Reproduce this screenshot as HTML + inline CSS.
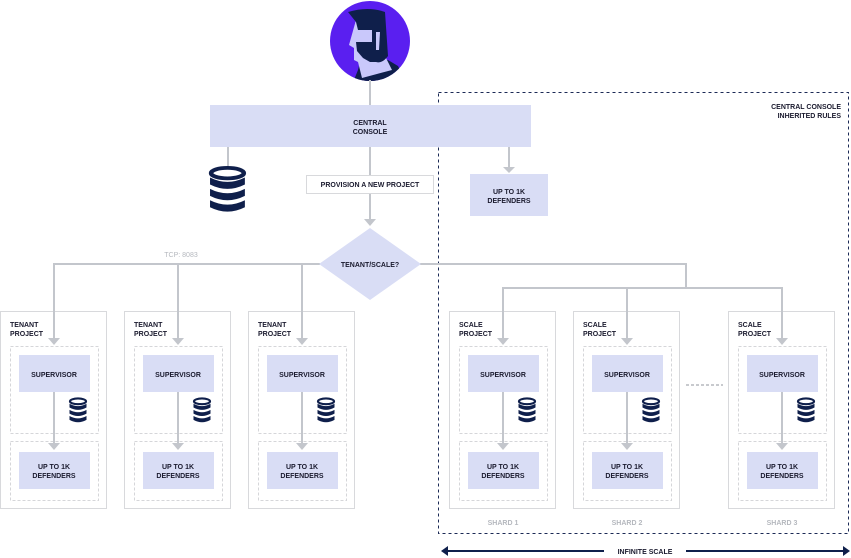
<!DOCTYPE html>
<html><head><meta charset="utf-8"><style>
html,body{margin:0;padding:0;background:#fff}
svg{display:block}
text{font-family:"Liberation Sans",sans-serif;font-weight:bold;font-size:7px;fill:#1a1a2e}
.g{fill:#b5b8be}
</style></head><body>
<svg width="851" height="558" viewBox="0 0 851 558" xmlns="http://www.w3.org/2000/svg">
<defs>
<g id="db">
<ellipse cx="9" cy="3.5" rx="8" ry="3" fill="none" stroke="#0f1f4b" stroke-width="2.2"/>
<path d="M0.5,6 Q9,11 17.5,6 L17.5,10 Q9,15 0.5,10Z M0.5,12.5 Q9,17.5 17.5,12.5 L17.5,16.5 Q9,21.5 0.5,16.5Z M0.5,19 Q9,24 17.5,19 L17.5,23 Q9,28 0.5,23Z" fill="#0f1f4b"/>
</g>
<g id="proj">
<rect x="0.5" y="311.5" width="106" height="197" fill="#fff" stroke="#d8d9dc"/>
<rect x="10.5" y="346.5" width="88" height="87" fill="none" stroke="#d5d6d9" stroke-dasharray="3,2"/>
<rect x="10.5" y="441.5" width="88" height="59" fill="none" stroke="#d5d6d9" stroke-dasharray="3,2"/>
<rect x="19" y="355" width="71" height="37" fill="#d9ddf5"/>
<rect x="19" y="452" width="71" height="37" fill="#d9ddf5"/>
<line x1="54" y1="392" x2="54" y2="446" stroke="#c3c6cc" stroke-width="2"/>
<path d="M48,443 L60,443 L54,450Z" fill="#c3c6cc"/>
<line x1="54" y1="311" x2="54" y2="340" stroke="#c3c6cc" stroke-width="2"/>
<path d="M48,338 L60,338 L54,345Z" fill="#c3c6cc"/>
<text x="54" y="377" text-anchor="middle">SUPERVISOR</text>
<text x="54" y="469" text-anchor="middle">UP TO 1K</text>
<text x="54" y="478" text-anchor="middle">DEFENDERS</text>
<use href="#db" transform="translate(69,398) scale(1,0.95)"/>
</g>
</defs>

<rect x="438.5" y="92.5" width="410" height="441" fill="none" stroke="#1b2a55" stroke-dasharray="3,3"/>
<text x="841" y="109" text-anchor="end">CENTRAL CONSOLE</text>
<text x="841" y="118" text-anchor="end">INHERITED RULES</text>

<!-- avatar -->
<circle cx="370" cy="41" r="40" fill="#5a1ff0"/>
<clipPath id="cc"><circle cx="370" cy="41" r="40"/></clipPath>
<g clip-path="url(#cc)">
<path d="M358,70 L360,62 L388,60 L398,66 L410,90 L350,90Z" fill="#0f1f4b"/>
<path d="M356,20 L382,18 L384,54 L392,70 L362,78 L358,62 L354,60 L354,48 L349,45 Z" fill="#c9c8fb"/>
<path d="M348,12 Q368,6 385,12 L388,56 Q382,64 376,62 L370,62 L363,58 L357,51 L356,42 L372,42 L372,30 L358,30 L356,22 Z" fill="#0f1f4b"/>
<path d="M376,32 L380,32 L379,50 L376,50Z" fill="#c9c8fb"/>
</g>

<line x1="370" y1="80" x2="370" y2="105" stroke="#c3c6cc" stroke-width="2"/>
<rect x="210" y="105" width="321" height="42" fill="#d9ddf5"/>
<text x="370" y="125" text-anchor="middle">CENTRAL</text>
<text x="370" y="134" text-anchor="middle">CONSOLE</text>

<line x1="228" y1="147" x2="228" y2="167" stroke="#c3c6cc" stroke-width="2"/>
<g transform="translate(209,167) scale(2.05,1.75)"><use href="#db"/></g>

<line x1="370" y1="147" x2="370" y2="220" stroke="#c3c6cc" stroke-width="2"/>
<path d="M364,219 L376,219 L370,226Z" fill="#c3c6cc"/>
<rect x="306.5" y="175.5" width="127" height="18" fill="#fff" stroke="#d8d9dc"/>
<text x="370" y="187" text-anchor="middle">PROVISION A NEW PROJECT</text>

<line x1="509" y1="147" x2="509" y2="168" stroke="#c3c6cc" stroke-width="2"/>
<path d="M503,167 L515,167 L509,173Z" fill="#c3c6cc"/>
<rect x="470" y="174" width="78" height="42" fill="#d9ddf5"/>
<text x="509" y="194" text-anchor="middle">UP TO 1K</text>
<text x="509" y="203" text-anchor="middle">DEFENDERS</text>

<polyline points="54,311 54,264 320,264" fill="none" stroke="#c3c6cc" stroke-width="2"/>
<line x1="178" y1="264" x2="178" y2="311" stroke="#c3c6cc" stroke-width="2"/>
<line x1="302" y1="264" x2="302" y2="311" stroke="#c3c6cc" stroke-width="2"/>
<text x="181" y="257" text-anchor="middle" class="g" style="font-weight:normal">TCP: 8083</text>
<polyline points="420,264 686,264 686,288" fill="none" stroke="#c3c6cc" stroke-width="2"/>
<polyline points="503,311 503,288 782,288 782,311" fill="none" stroke="#c3c6cc" stroke-width="2"/>
<line x1="627" y1="288" x2="627" y2="311" stroke="#c3c6cc" stroke-width="2"/>

<path d="M370,228 L421,264 L370,300 L319,264Z" fill="#d9ddf5"/>
<text x="370" y="267" text-anchor="middle">TENANT/SCALE?</text>

<use href="#proj"/>
<use href="#proj" transform="translate(124,0)"/>
<use href="#proj" transform="translate(248,0)"/>
<use href="#proj" transform="translate(449,0)"/>
<use href="#proj" transform="translate(573,0)"/>
<use href="#proj" transform="translate(728,0)"/>

<text x="10" y="327">TENANT</text><text x="10" y="336">PROJECT</text>
<text x="134" y="327">TENANT</text><text x="134" y="336">PROJECT</text>
<text x="258" y="327">TENANT</text><text x="258" y="336">PROJECT</text>
<text x="459" y="327">SCALE</text><text x="459" y="336">PROJECT</text>
<text x="583" y="327">SCALE</text><text x="583" y="336">PROJECT</text>
<text x="738" y="327">SCALE</text><text x="738" y="336">PROJECT</text>

<line x1="686" y1="385" x2="723" y2="385" stroke="#c8cace" stroke-width="2" stroke-dasharray="3,2"/>

<text x="503" y="525" text-anchor="middle" class="g">SHARD 1</text>
<text x="627" y="525" text-anchor="middle" class="g">SHARD 2</text>
<text x="782" y="525" text-anchor="middle" class="g">SHARD 3</text>

<line x1="446" y1="551" x2="604" y2="551" stroke="#0f1f4b" stroke-width="2"/>
<line x1="686" y1="551" x2="843" y2="551" stroke="#0f1f4b" stroke-width="2"/>
<path d="M441,551 L448,546 L448,556Z" fill="#0f1f4b"/>
<path d="M850,551 L843,546 L843,556Z" fill="#0f1f4b"/>
<text x="645" y="554" text-anchor="middle">INFINITE SCALE</text>
</svg>
</body></html>
